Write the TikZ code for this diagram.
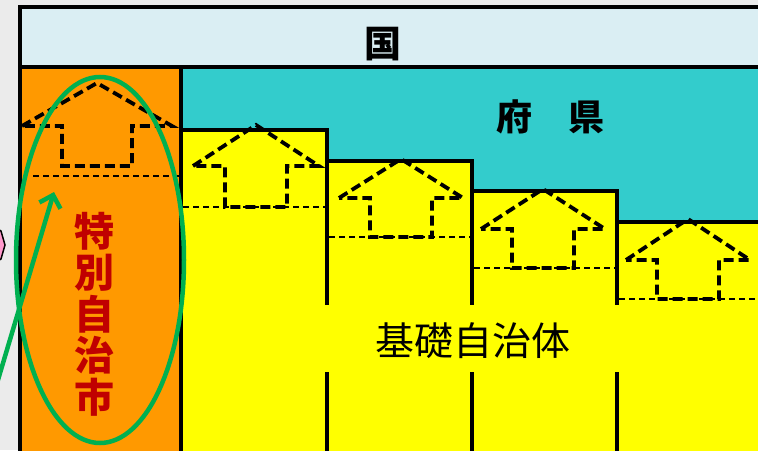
\documentclass[tikz,border=0pt]{standalone}
\usepackage{fontspec}
\newfontfamily\cjk{Noto Sans CJK JP}
\usetikzlibrary{arrows.meta}
\definecolor{bggray}{HTML}{EBEBEB}
\definecolor{kunibg}{HTML}{DAEEF3}
\definecolor{fukenbg}{HTML}{33CCCC}
\definecolor{orangebg}{HTML}{FF9900}
\definecolor{yellowbg}{HTML}{FFFF00}
\definecolor{ggreen}{HTML}{00B050}
\definecolor{tred}{HTML}{C00000}
\definecolor{pinkc}{HTML}{FF99CC}
\begin{document}
\begin{tikzpicture}[x=1pt,y=-1pt,
  border/.style={draw=black,line width=3.5pt},
  stepbox/.style={fill=yellowbg,draw=black,line width=3.5pt},
  housearrow/.style={draw=black,line width=3.8pt,dash pattern=on 10pt off 5pt,line join=miter},
  levelline/.style={draw=black,line width=1.8pt,dash pattern=on 6pt off 4pt},
  greenline/.style={draw=ggreen,line width=4.5pt},
  label/.style={inner sep=0pt}]
\useasboundingbox (0,0) rectangle (758,450);
\clip (0,0) rectangle (758,450);
\fill[bggray] (0,0) rectangle (758,450);
% pink fragment at left edge
\filldraw[fill=pinkc,draw=black,line width=1.5pt] (-4,228) -- (1,231) -- (5,245) -- (1,259) -- (-4,262) -- cycle;
% bands
\fill[kunibg] (20,7) rectangle (780,67);
\fill[fukenbg] (181,67) rectangle (780,470);
\fill[orangebg] (20,67) rectangle (181,470);
% steps of basic municipalities
\draw[stepbox] (181,130) rectangle (327,480);
\draw[stepbox] (327,161) rectangle (472,480);
\draw[stepbox] (472,191) rectangle (617,480);
\draw[stepbox] (617,222) rectangle (790,480);
\fill[yellowbg] (184,305) rectangle (780,372);
% frame
\draw[border] (780,7) -- (20,7) -- (20,470);
\draw[border] (20,67) -- (780,67);
\draw[border] (181,67) -- (181,470);
% level lines
\draw[levelline] (33,176) -- (181,176);
\draw[levelline] (183,207) -- (327,207);
\draw[levelline] (329,237) -- (472,237);
\draw[levelline] (474,268) -- (617,268);
\draw[levelline] (619,299) -- (760,299);
% house arrows
\foreach \cx/\ay/\by/\bt/\hw/\sw in {97/83/126/166/75/35, 256/125/166/207/63/31, 401/159/198/237/62/31, 543/189/229/268/62/31, 688/219/260/299/62/31}{
  \draw[housearrow] ({\cx-\hw},\by) -- (\cx,\ay) -- ({\cx+\hw},\by) -- ({\cx+\sw},\by) -- ({\cx+\sw},\bt) -- ({\cx-\sw},\bt) -- ({\cx-\sw},\by) -- cycle;
}
% labels
\node[label,font=\cjk\bfseries\fontsize{37}{40}\selectfont] (kuni) at (383,44) {国};
\node[label,font=\cjk\bfseries\fontsize{36}{40}\selectfont] (fuken) at (550,117) {府　県};
\node[label,text=tred,align=center,font=\cjk\bfseries\fontsize{40}{41.6}\selectfont] (toku) at (94,314) {特\\別\\自\\治\\市};
\node[label,font=\cjk\fontsize{39}{40}\selectfont] (kiso) at (473,341) {基礎自治体};
% green ellipse and arrow
\draw[greenline] (100,260) ellipse [x radius=84, y radius=183];
\coordinate (gs) at (-8,400);
\coordinate (gt) at (54,192);
\draw[greenline,-{Straight Barb[length=11pt,width=22pt]}] (gs) -- (gt);
\end{tikzpicture}
\end{document}
